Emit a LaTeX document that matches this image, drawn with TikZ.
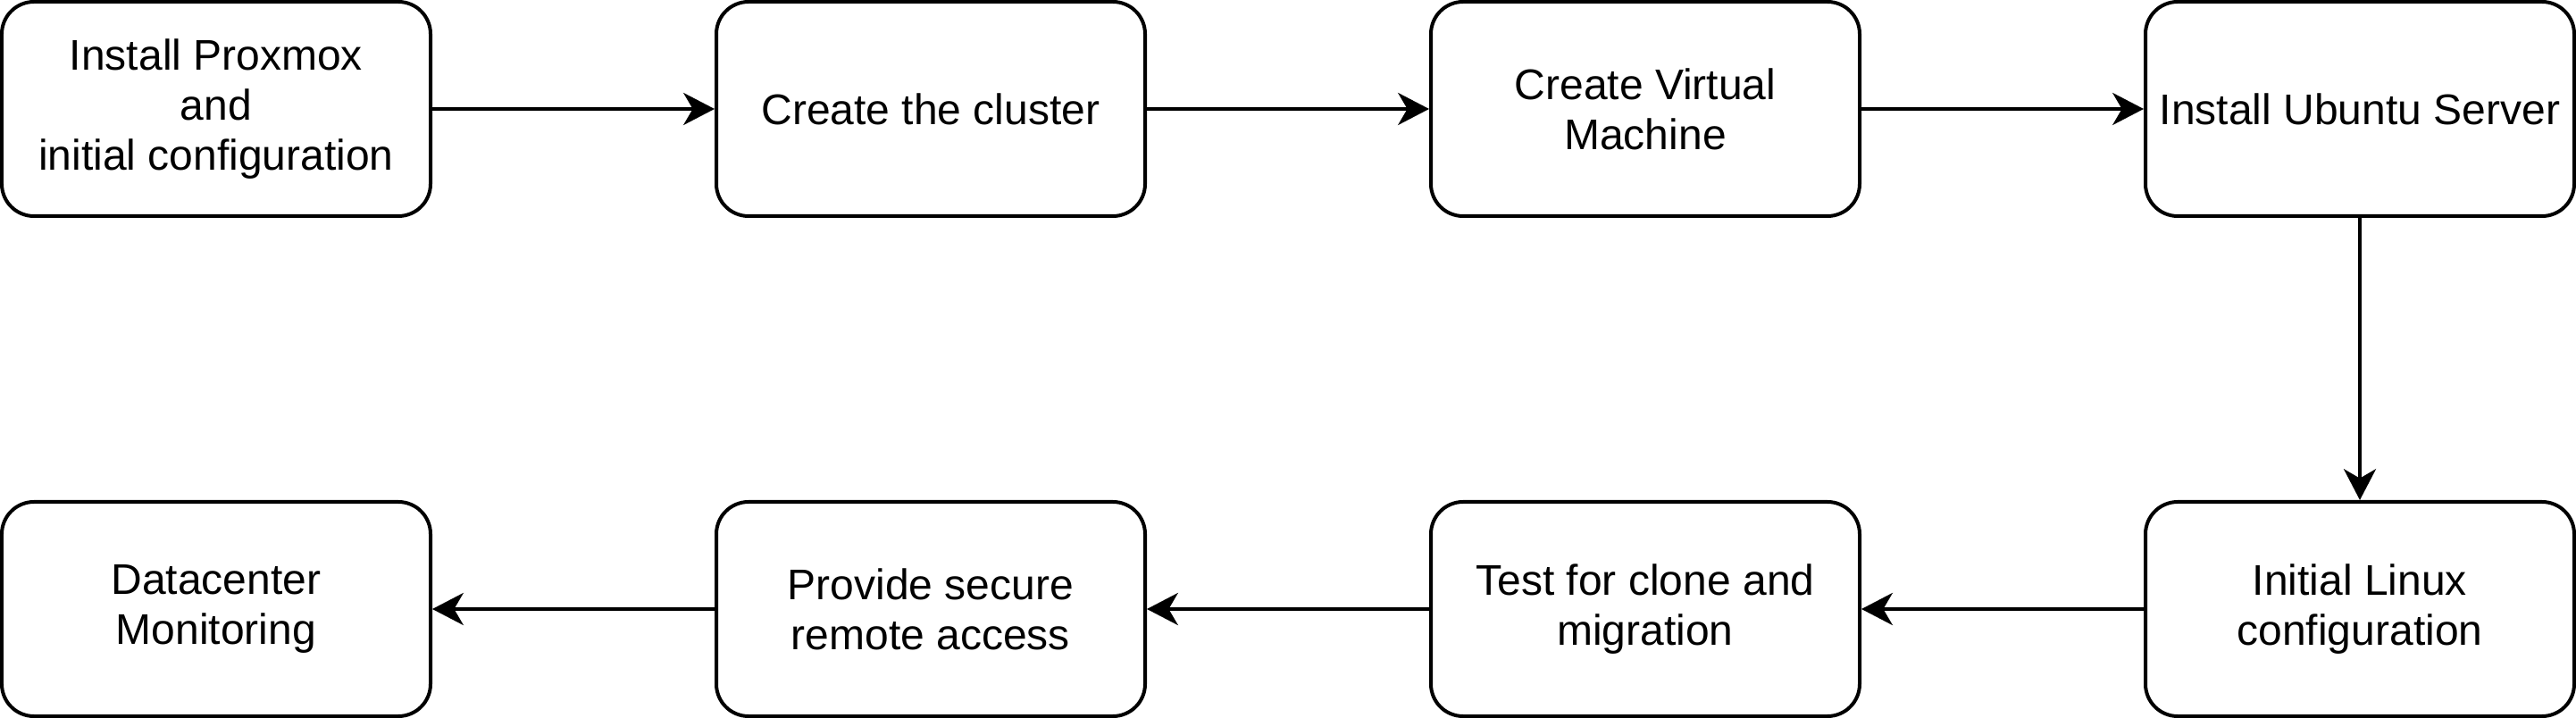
\documentclass[tikz,border=0pt]{standalone}
\usepackage{fontspec}
\setmainfont{Liberation Sans}
\usetikzlibrary{positioning}
\usetikzlibrary{arrows.meta}

\begin{document}
\begin{tikzpicture}[x = 1pt, y = 1pt,
	box/.style = {draw, black, line width = 1pt, rounded corners = 9pt, minimum width = 120pt, minimum height = 60pt, inner sep = 0pt, align = center, font = \fontsize{12}{14}\selectfont},
	link/.style = {black, line width = 1pt, -{Stealth[length = 8.7pt, width = 9pt, inset = 2.6pt]}}]
					\useasboundingbox (-0.5, -0.5) rectangle (720.5, 200.5);
					\node [box] (proxmox) at (60, 170) {Install Proxmox\\and\\initial configuration};
					\node [box] (cluster) at (260, 170) {Create the cluster};
					\node [box] (vm) at (460, 170) {Create Virtual\\Machine};
					\node [box] (ubuntu) at (660, 170) {Install Ubuntu Server};
					\node [box] (linux) at (660, 30) {Initial Linux\\configuration};
					\node [box] (clone) at (460, 30) {Test for clone and\\migration};
					\node [box] (remote) at (260, 30) {Provide secure\\remote access};
					\node [box] (monitor) at (60, 30) {Datacenter\\Monitoring};
					\draw [link] (proxmox) -- (cluster);
					\draw [link] (cluster) -- (vm);
					\draw [link] (vm) -- (ubuntu);
					\draw [link] (ubuntu) -- (linux);
					\draw [link] (linux) -- (clone);
					\draw [link] (clone) -- (remote);
					\draw [link] (remote) -- (monitor);
				\end{tikzpicture}
\end{document}
